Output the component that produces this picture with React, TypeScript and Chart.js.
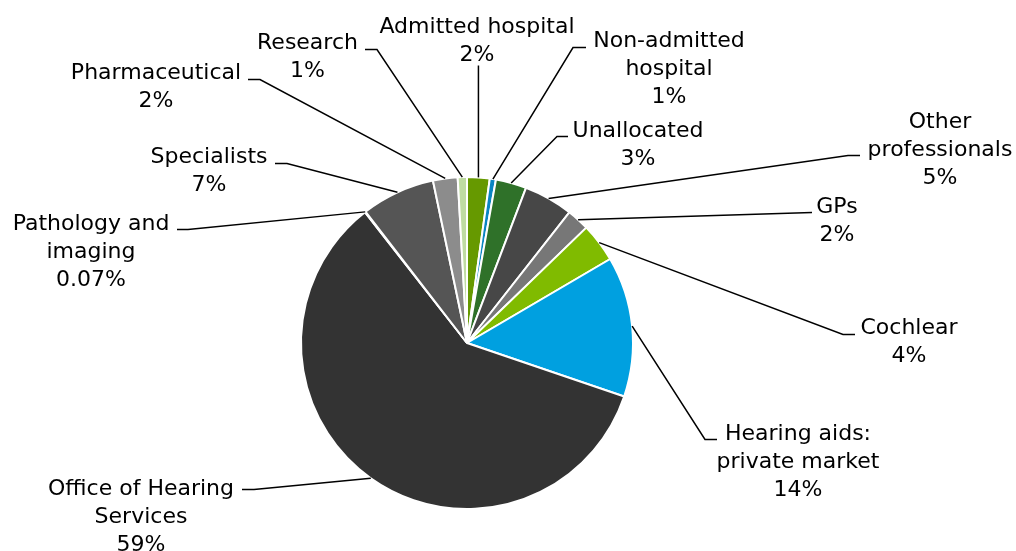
import React, { useEffect, useRef } from "react";
import { Chart, registerables } from "chart.js";

Chart.register(...registerables);

// ---- data ----
const categories = [
  "Admitted hospital",
  "Non-admitted hospital",
  "Unallocated",
  "Other professionals",
  "GPs",
  "Cochlear",
  "Hearing aids: private market",
  "Office of Hearing Services",
  "Pathology and imaging",
  "Specialists",
  "Pharmaceutical",
  "Research",
];
const shares = [2.2, 0.6, 3.0, 4.8, 2.2, 3.8, 13.7, 59.4, 0.07, 7.2, 2.4, 0.9];
const shareLabels = ["2%", "1%", "3%", "5%", "2%", "4%", "14%", "59%", "0.07%", "7%", "2%", "1%"];
const labelLines = [
  ["Admitted hospital"],
  ["Non-admitted", "hospital"],
  ["Unallocated"],
  ["Other", "professionals"],
  ["GPs"],
  ["Cochlear"],
  ["Hearing aids:", "private market"],
  ["Office of Hearing", "Services"],
  ["Pathology and", "imaging"],
  ["Specialists"],
  ["Pharmaceutical"],
  ["Research"],
];

// ---- styles ----
const sliceColors = [
  "#669900",
  "#0a85c2",
  "#2f7129",
  "#474747",
  "#777777",
  "#80bb00",
  "#00a0e0",
  "#333333",
  "#222222",
  "#555555",
  "#8c8c8c",
  "#bfdca2",
];

// label layout relative to pie centre: text centre x, first-line middle y,
// leader end point, elbow offset (horizontal segment length, signed)
const labelLayout = [
  { tx: 10, ty: -318, ex: 12, ey: -278, elbow: 0 },
  { tx: 202, ty: -304, ex: 119, ey: -296, elbow: -13 },
  { tx: 171, ty: -214, ex: 101, ey: -207, elbow: -11 },
  { tx: 473, ty: -223, ex: 393, ey: -188, elbow: -12 },
  { tx: 370, ty: -138, ex: 345, ey: -131, elbow: 0 },
  { tx: 442, ty: -17, ex: 388, ey: -9, elbow: -12 },
  { tx: 331, ty: 89, ex: 250, ey: 96, elbow: -12 },
  { tx: -326, ty: 144, ex: -225, ey: 146, elbow: 12 },
  { tx: -376, ty: -121, ex: -290, ey: -114, elbow: 11 },
  { tx: -258, ty: -188, ex: -192, ey: -180, elbow: 12 },
  { tx: -311, ty: -272, ex: -219, ey: -264, elbow: 12 },
  { tx: -159.5, ty: -302, ex: -102, ey: -294, elbow: 12 },
];

const FONT = '22px "DejaVu Sans", Verdana, sans-serif';
const LINE_H = 28;
const W = 1016;
const H = 551;

const labelPlugin = {
  id: "leaderLabels",
  afterDraw(chart: any) {
    const ctx = chart.ctx;
    const meta = chart.getDatasetMeta(0);
    ctx.save();
    ctx.font = FONT;
    ctx.fillStyle = "#000000";
    ctx.strokeStyle = "#000000";
    ctx.lineWidth = 1.5;
    ctx.textAlign = "center";
    ctx.textBaseline = "alphabetic";
    meta.data.forEach((arc: any, i: number) => {
      const cx = arc.x;
      const cy = arc.y;
      const r = arc.outerRadius;
      const mid = (arc.startAngle + arc.endAngle) / 2;
      const sx = cx + Math.cos(mid) * r;
      const sy = cy + Math.sin(mid) * r;
      const L = labelLayout[i];
      const ex = cx + L.ex;
      const ey = cy + L.ey + 0.5;
      ctx.beginPath();
      ctx.moveTo(sx, sy);
      if (L.elbow !== 0) {
        ctx.lineTo(ex + L.elbow, ey);
        ctx.lineTo(ex, ey);
      } else if (i === 0) {
        ctx.lineTo(sx, ey);
      } else {
        ctx.lineTo(ex, ey);
      }
      ctx.stroke();
      const lines = [...labelLines[i], shareLabels[i]];
      lines.forEach((t, k) => {
        ctx.fillText(t, cx + L.tx, cy + L.ty + 8 + k * LINE_H);
      });
    });
    ctx.restore();
  },
};

export default function App() {
  const ref = useRef<HTMLCanvasElement | null>(null);
  useEffect(() => {
    document.body.style.margin = "0";
    document.body.style.overflow = "hidden";
    if (!ref.current) return;
    const chart = new Chart(ref.current, {
      type: "pie",
      data: {
        labels: categories,
        datasets: [
          {
            data: shares,
            backgroundColor: sliceColors,
            borderColor: "#ffffff",
            borderWidth: 2,
          },
        ],
      },
      options: {
        animation: false,
        responsive: false,
        maintainAspectRatio: false,
        layout: { padding: { left: 300, right: 382, top: 176, bottom: 41 } },
        plugins: {
          legend: { display: false },
          tooltip: { enabled: false },
        },
      },
      plugins: [labelPlugin],
    });
    return () => chart.destroy();
  }, []);
  return (
    <div style={{ width: W, height: H }}>
      <canvas ref={ref} width={W} height={H} style={{ display: "block", width: W, height: H }} />
    </div>
  );
}
